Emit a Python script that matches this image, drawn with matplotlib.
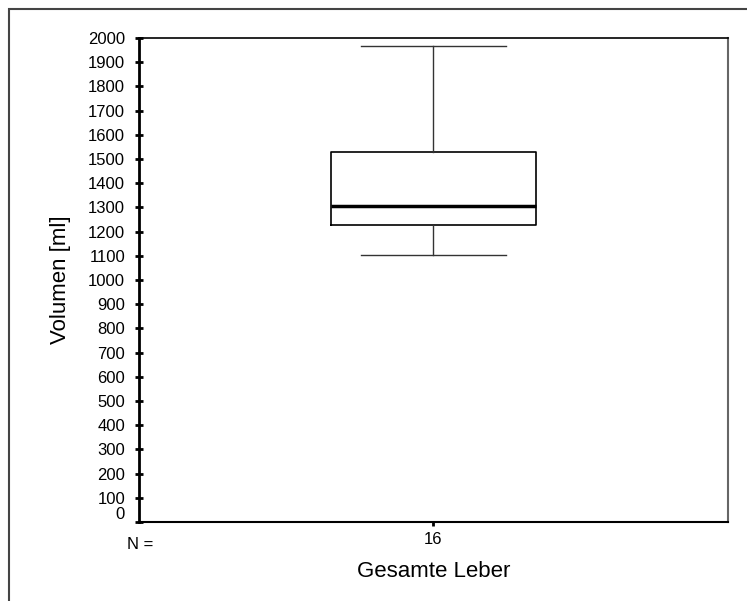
import matplotlib.pyplot as plt
from matplotlib.patches import Rectangle

plt.rcParams['font.family'] = ['Liberation Sans', 'DejaVu Sans']

# box plot summary
group = 'Gesamte Leber'
n_cases = 16
whisker_low = 1103
q1 = 1227
median = 1306
q3 = 1530
whisker_high = 1967

yticks = list(range(0, 2001, 100))

fig = plt.figure(figsize=(7.47, 6.01), dpi=100)
ax = fig.add_axes([0.186, 0.1314, 0.7886, 0.8054])

stats = [{'whislo': whisker_low, 'q1': q1, 'med': median, 'q3': q3,
          'whishi': whisker_high, 'fliers': [], 'label': str(n_cases)}]
ax.bxp(stats, positions=[1], widths=0.348, capwidths=0.246, showfliers=False,
       boxprops=dict(color='black', linewidth=1.2),
       whiskerprops=dict(color='#333333', linewidth=1.0),
       capprops=dict(color='#333333', linewidth=1.0),
       medianprops=dict(color='black', linewidth=2.5))

ax.set_xlim(0.5, 1.5)
ax.set_ylim(0, 2000)
ax.set_yticks(yticks)
ax.set_yticklabels([str(t) for t in yticks], fontsize=12)
ax.set_xticks([1])
ax.set_xticklabels([str(n_cases)], fontsize=12)
ax.tick_params(axis='y', direction='inout', length=6, width=2, pad=7)
ax.tick_params(axis='x', direction='out', length=3, width=2, pad=4)
ax.get_yticklabels()[0].set_verticalalignment('bottom')

ax.set_ylabel('Volumen [ml]', fontsize=16, labelpad=12)
ax.set_xlabel(group, fontsize=16, labelpad=10)
ax.text(-0.02, -0.03, 'N =', transform=ax.transAxes, fontsize=12,
        ha='left', va='top')

ax.spines['left'].set_linewidth(2)
ax.spines['bottom'].set_linewidth(1.5)
ax.spines['top'].set_linewidth(1.2)
ax.spines['right'].set_linewidth(1.5)
ax.spines['right'].set_color('#666666')

# outer frame (only the top and left edges are visible)
fig.patches.append(Rectangle((9 / 747, -0.2), 1.2, 1.2 - 9 / 601,
                             transform=fig.transFigure, fill=False,
                             edgecolor='#444444', linewidth=1.5))

fig.savefig('out.png', dpi=100)
